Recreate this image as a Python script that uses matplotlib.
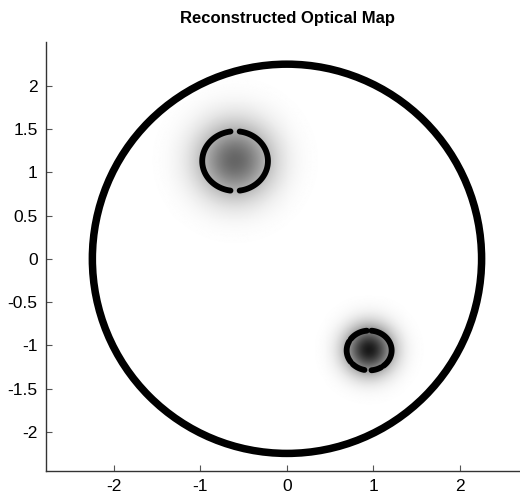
import numpy as np
import matplotlib
matplotlib.use("Agg")
import matplotlib.pyplot as plt
from matplotlib.patches import Circle

plt.rcParams['font.family'] = ['Liberation Sans', 'DejaVu Sans']

# Domain boundary (circular phantom)
domain_radius = 2.25

# Reconstructed absorbers: centre, gaussian width, peak contrast
incl_x = [-0.60, 0.95]
incl_y = [1.13, -1.06]
incl_sigma = [0.30, 0.19]
incl_peak = [0.60, 0.90]

# True inclusion outlines (semi-axes) and the arcs drawn for each (degrees)
outline_rx = [0.38, 0.26]
outline_ry = [0.345, 0.23]
outline_arcs = [
    [(-82, 82), (98, 262)],
    [(-50, 84), (96, 145), (153, 215), (223, 258), (276, 302)],
]

x_ticks = [-2, -1, 0, 1, 2]
y_ticks = [-2, -1.5, -1, -0.5, 0, 0.5, 1, 1.5, 2]

fig = plt.figure(figsize=(5.2, 4.98), dpi=100)
ax = fig.add_axes([46 / 520, 25 / 498, 1 - 46 / 520, 433 / 498])

# Reconstructed map on a grid
g = np.linspace(-domain_radius, domain_radius, 400)
X, Y = np.meshgrid(g, g)
mu = np.zeros_like(X)
for cx, cy, s, p in zip(incl_x, incl_y, incl_sigma, incl_peak):
    mu += p * np.exp(-((X - cx) ** 2 + (Y - cy) ** 2) / (2 * s ** 2))
mu[X ** 2 + Y ** 2 > domain_radius ** 2] = 0
ax.imshow(mu, cmap='gray_r', vmin=0, vmax=1, origin='lower',
          extent=[-domain_radius, domain_radius, -domain_radius, domain_radius],
          interpolation='bilinear', zorder=1)

# Domain boundary
ax.add_patch(Circle((0, 0), domain_radius, fill=False, edgecolor='black',
                    lw=5.4, zorder=3))

# Inclusion outlines
for cx, cy, rx, ry, arcs in zip(incl_x, incl_y, outline_rx, outline_ry, outline_arcs):
    for a0, a1 in arcs:
        th = np.radians(np.linspace(a0, a1, 60))
        ax.plot(cx + rx * np.cos(th), cy + ry * np.sin(th),
                color='black', lw=4.2, solid_capstyle='round', zorder=3)

ax.set_xlim(-2.786, 2.694)
ax.set_ylim(-2.455, 2.508)
ax.set_xticks(x_ticks)
ax.set_xticklabels([f"{v:g}" for v in x_ticks])
ax.set_yticks(y_ticks)
ax.set_yticklabels([f"{v:g}" for v in y_ticks])
ax.tick_params(direction='in', length=4, width=0.8, color='#555555',
               labelsize=12.5, pad=6)
for side in ('top', 'right'):
    ax.spines[side].set_visible(False)
for side in ('left', 'bottom'):
    ax.spines[side].set_color('#333333')
    ax.spines[side].set_linewidth(1.0)

fig.text(287 / 520, 1 - 19 / 498, 'Reconstructed Optical Map', ha='center',
         va='center', fontsize=12, fontweight='bold')

fig.savefig('out.png', dpi=100)
